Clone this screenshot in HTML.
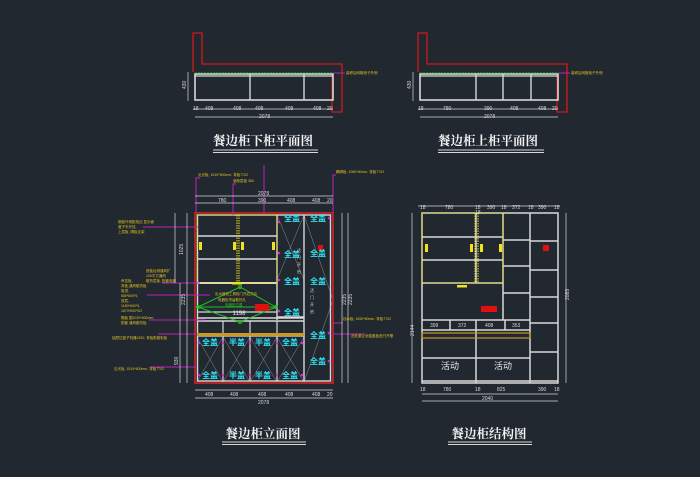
<!DOCTYPE html>
<html><head><meta charset="utf-8"><style>
html,body{margin:0;padding:0;background:#212830;}
svg{display:block}
text{font-family:"Liberation Sans","Noto Sans CJK SC",sans-serif;}
.t{font-family:"Liberation Serif","Noto Serif CJK SC",serif;}
</style></head><body>
<svg width="700" height="477" viewBox="0 0 700 477" xmlns="http://www.w3.org/2000/svg">
<rect width="700" height="477" fill="#212830"/>

<!-- ===== Top-left plan ===== -->
<g>
<polyline points="193,72 193,33 202,33 202,64 342,64 342,112 332,112 332,75" fill="none" stroke="#d01818" stroke-width="1.3"/>
<rect x="195" y="74" width="138" height="26" fill="none" stroke="#d8d8d8" stroke-width="1.6"/>
<line x1="195" y1="76" x2="333" y2="76" stroke="#d8d8d8" stroke-width="1.2"/>
<line x1="250" y1="74" x2="250" y2="100" stroke="#d8d8d8" stroke-width="1.4"/>
<line x1="304" y1="74" x2="304" y2="100" stroke="#d8d8d8" stroke-width="1.4"/>
<line x1="195" y1="73" x2="333" y2="73" stroke="#20c020" stroke-width="1" stroke-dasharray="2,1"/>
<line x1="333" y1="73" x2="345" y2="73" stroke="#c020c0" stroke-width="1"/>
<text x="346" y="74" font-size="3.5" fill="#e0c020">装修后网格柜子外侧</text>
<line x1="188" y1="72" x2="188" y2="101" stroke="#d8d8d8" stroke-width="0.7"/>
<text x="186" y="89" font-size="5" fill="#d8d8d8" transform="rotate(-90 186 89)">430</text>
<line x1="193" y1="109" x2="333" y2="109" stroke="#d8d8d8" stroke-width="0.7"/>
<text x="193" y="110" font-size="5" fill="#d8d8d8">18</text>
<text x="205" y="110" font-size="5" fill="#d8d8d8">408</text>
<text x="233" y="110" font-size="5" fill="#d8d8d8">408</text>
<text x="255" y="110" font-size="5" fill="#d8d8d8">408</text>
<text x="285" y="110" font-size="5" fill="#d8d8d8">408</text>
<text x="313" y="110" font-size="5" fill="#d8d8d8">408</text>
<text x="327" y="110" font-size="5" fill="#d8d8d8">20</text>
<line x1="195" y1="117" x2="333" y2="117" stroke="#d8d8d8" stroke-width="0.7"/>
<text x="259" y="118" font-size="5" fill="#d8d8d8">2078</text>
<text class="t" x="263" y="145" font-size="12.5" fill="#f2f2f2" text-anchor="middle" font-weight="bold">餐边柜下柜平面图</text>
<line x1="213" y1="150" x2="318" y2="150" stroke="#d8d8d8" stroke-width="1"/>
<line x1="213" y1="152.5" x2="318" y2="152.5" stroke="#d8d8d8" stroke-width="1"/>
</g>

<!-- ===== Top-right plan ===== -->
<g>
<polyline points="418,72 418,33 427,33 427,64 567,64 567,112 557,112 557,75" fill="none" stroke="#d01818" stroke-width="1.3"/>
<rect x="420" y="74" width="138" height="26" fill="none" stroke="#d8d8d8" stroke-width="1.6"/>
<line x1="420" y1="76" x2="558" y2="76" stroke="#d8d8d8" stroke-width="1.2"/>
<line x1="476" y1="74" x2="476" y2="100" stroke="#d8d8d8" stroke-width="1.4"/>
<line x1="503" y1="74" x2="503" y2="100" stroke="#d8d8d8" stroke-width="1.4"/>
<line x1="531" y1="74" x2="531" y2="100" stroke="#d8d8d8" stroke-width="1.4"/>
<line x1="420" y1="73" x2="558" y2="73" stroke="#20c020" stroke-width="1" stroke-dasharray="2,1"/>
<line x1="558" y1="73" x2="570" y2="73" stroke="#c020c0" stroke-width="1"/>
<text x="571" y="74" font-size="3.5" fill="#e0c020">装修后网格柜子外侧</text>
<line x1="413" y1="72" x2="413" y2="101" stroke="#d8d8d8" stroke-width="0.7"/>
<text x="411" y="89" font-size="5" fill="#d8d8d8" transform="rotate(-90 411 89)">430</text>
<line x1="418" y1="109" x2="558" y2="109" stroke="#d8d8d8" stroke-width="0.7"/>
<text x="418" y="110" font-size="5" fill="#d8d8d8">18</text>
<text x="443" y="110" font-size="5" fill="#d8d8d8">780</text>
<text x="484" y="110" font-size="5" fill="#d8d8d8">390</text>
<text x="510" y="110" font-size="5" fill="#d8d8d8">408</text>
<text x="538" y="110" font-size="5" fill="#d8d8d8">408</text>
<text x="552" y="110" font-size="5" fill="#d8d8d8">20</text>
<line x1="420" y1="117" x2="558" y2="117" stroke="#d8d8d8" stroke-width="0.7"/>
<text x="484" y="118" font-size="5" fill="#d8d8d8">2078</text>
<text class="t" x="488" y="145" font-size="12.5" fill="#f2f2f2" text-anchor="middle" font-weight="bold">餐边柜上柜平面图</text>
<line x1="438" y1="150" x2="544" y2="150" stroke="#d8d8d8" stroke-width="1"/>
<line x1="438" y1="152.5" x2="544" y2="152.5" stroke="#d8d8d8" stroke-width="1"/>
</g>

<!-- ===== Elevation ===== -->
<g stroke="#d8d8d8" fill="none">
<g stroke="#8a8f95" stroke-width="0.5">
<line x1="277" y1="215" x2="304" y2="280"/><line x1="304" y1="215" x2="277" y2="280"/>
<line x1="304" y1="215" x2="333" y2="300"/><line x1="333" y1="300" x2="304" y2="382"/>
<line x1="197" y1="337" x2="223" y2="382"/><line x1="223" y1="337" x2="197" y2="382"/>
<line x1="223" y1="337" x2="250" y2="382"/><line x1="250" y1="337" x2="223" y2="382"/>
<line x1="250" y1="337" x2="277" y2="382"/><line x1="277" y1="337" x2="250" y2="382"/>
<line x1="277" y1="337" x2="304" y2="382"/><line x1="304" y1="337" x2="277" y2="382"/>
</g>
<rect x="195" y="213" width="138" height="170" stroke="#e02020" stroke-width="1.5"/>
<rect x="197.5" y="215" width="133" height="166" stroke-width="1.4"/>
<line x1="277" y1="215" x2="277" y2="320" stroke-width="1.4"/>
<line x1="304" y1="215" x2="304" y2="381" stroke-width="1.4"/>
<line x1="197" y1="283" x2="277" y2="283" stroke-width="2"/>
<line x1="197" y1="318" x2="304" y2="318" stroke-width="1.4"/>
<line x1="197" y1="321" x2="304" y2="321" stroke-width="1.4"/>
<line x1="277" y1="317" x2="304" y2="317" stroke-width="1.4"/>
<line x1="197" y1="336" x2="304" y2="336" stroke-width="1.2"/>
<line x1="223" y1="321" x2="223" y2="381" stroke-width="1.2"/>
<line x1="250" y1="321" x2="250" y2="381" stroke-width="1.2"/>
<line x1="277" y1="321" x2="277" y2="381" stroke-width="1.2"/>
<line x1="197" y1="236" x2="277" y2="236" stroke-width="1.6"/>
<line x1="197" y1="259" x2="277" y2="259" stroke-width="1.6"/>
<line x1="197" y1="312" x2="277" y2="312" stroke-width="1.2"/>
</g>
<g stroke="#f0e020" stroke-width="1" fill="none" stroke-dasharray="1.5,1">
<rect x="197" y="215" width="80" height="68"/>
<line x1="237" y1="215" x2="237" y2="283"/><line x1="239" y1="215" x2="239" y2="283"/>
</g>
<g fill="#f0e020">
<rect x="199" y="242" width="3" height="8"/><rect x="233" y="242" width="3" height="8"/>
<rect x="241" y="242" width="3" height="8"/><rect x="272" y="242" width="3" height="8"/>
<rect x="232" y="282" width="10" height="2.5"/>
</g>
<rect x="197" y="333" width="107" height="3" fill="#c89828"/>
<g stroke="#20c020" stroke-width="1" fill="none">
<polygon points="198,307 240,287 276,307 240,322"/>
<line x1="198" y1="307" x2="276" y2="307"/>
<circle cx="198" cy="307" r="1.5"/><circle cx="276" cy="307" r="1.5"/><circle cx="240" cy="287" r="1.5"/><circle cx="240" cy="322" r="1.5"/>
</g>
<rect x="255" y="304" width="14" height="7" fill="#e01010"/>
<rect x="318" y="245" width="5" height="5" fill="#e01010"/>
<text x="239" y="315" font-size="6" fill="#f0f0f0" text-anchor="middle">1198</text>
<text x="215" y="295" font-size="3.5" fill="#e0c020">出水管及工具柜门开启方向</text>
<text x="218" y="301" font-size="3.5" fill="#e0c020">电器柜须留散热孔</text>
<text x="225" y="306" font-size="3.5" fill="#20c020">电器柜位置</text>
<g font-size="8" fill="#30e0f0" font-weight="bold" text-anchor="middle">
<text x="292" y="221">全盖</text><text x="292" y="257">全盖</text><text x="292" y="284">全盖</text><text x="292" y="315">全盖</text>
<text x="318" y="221">全盖</text><text x="318" y="256">全盖</text><text x="318" y="284">全盖</text><text x="318" y="338">全盖</text><text x="318" y="364">全盖</text>
<text x="210" y="345">全盖</text><text x="237" y="345">半盖</text><text x="263" y="345">半盖</text><text x="290" y="345">全盖</text>
<text x="210" y="378">全盖</text><text x="237" y="378">半盖</text><text x="263" y="378">半盖</text><text x="290" y="378">全盖</text>
</g>
<g font-size="4" fill="#d8d8d8">
<text x="297" y="252">活</text><text x="297" y="259">门</text><text x="297" y="266">开</text><text x="297" y="273">启</text>
<text x="310" y="292">活</text><text x="310" y="299">门</text><text x="310" y="306">开</text><text x="310" y="313">启</text>
</g>
<g fill="#e020e0">
<circle cx="279" cy="222" r="1.3"/><circle cx="279" cy="253" r="1.3"/><circle cx="279" cy="280" r="1.3"/><circle cx="279" cy="311" r="1.3"/>
<circle cx="329" cy="218" r="1.3"/><circle cx="329" cy="333" r="1.3"/><circle cx="329" cy="361" r="1.3"/>
<circle cx="199" cy="343" r="1.3"/><circle cx="223" cy="343" r="1.3"/><circle cx="250" cy="343" r="1.3"/><circle cx="277" cy="343" r="1.3"/><circle cx="302" cy="343" r="1.3"/>
<circle cx="199" cy="375" r="1.3"/><circle cx="223" cy="375" r="1.3"/><circle cx="250" cy="375" r="1.3"/><circle cx="277" cy="375" r="1.3"/><circle cx="302" cy="375" r="1.3"/>
</g>
<g stroke="#c020c0" stroke-width="1" fill="none">
<polyline points="196,213 196,178 200,178"/>
<polyline points="233,215 233,184 236,184"/>
<polyline points="264,213 264,165"/>
<polyline points="333,213 333,175 336,175"/>
<line x1="143" y1="227" x2="198" y2="227"/>
<line x1="162" y1="283" x2="200" y2="283"/>
<line x1="147" y1="295" x2="210" y2="295"/>
<line x1="149" y1="320" x2="205" y2="320"/>
<line x1="158" y1="334" x2="196" y2="334"/>
<line x1="150" y1="367" x2="196" y2="367"/>
<line x1="333" y1="323" x2="343" y2="323"/>
<line x1="333" y1="334" x2="365" y2="334"/>
</g>
<g font-size="3.5" fill="#e0c020">
<text x="198" y="176">见光板, 1510*600mm, 背板7702</text>
<text x="233" y="182">酒柜层板 360</text>
<text x="336" y="173">踢脚板, 1080*60mm, 背板7702</text>
<text x="118" y="223">搁板外侧距柜边 显示面</text><text x="118" y="228">盖子半开铰, </text><text x="118" y="233">上层板, 隔板支架</text>
<text x="146" y="272">底板后侧通风扩</text><text x="146" y="277">100平方通风</text><text x="146" y="282">散热层板, 配套电器</text>
<text x="121" y="282">声控板,</text><text x="121" y="287">背板,通风散热板</text><text x="121" y="292">吸顶,</text><text x="121" y="297">580*600*5,</text><text x="121" y="302">双层,</text><text x="121" y="307">1180*600*5,</text><text x="121" y="312">1870*600*5/2</text>
<text x="121" y="319">隔板 图1020*600mm,</text><text x="121" y="324">配套 通风散热板</text>
<text x="112" y="339">抽屉拉篮子机器1530, 背板配套柜板</text>
<text x="114" y="370">见光板, 1510*600mm, 背板7702</text>
<text x="343" y="320">挡水板, 1650*60mm, 背板7702</text>
<text x="351" y="337">此处避让地插盖板进行开槽</text>
</g>
<g stroke="#d8d8d8" stroke-width="0.7" fill="none">
<line x1="195" y1="196" x2="333" y2="196"/><line x1="195" y1="203" x2="333" y2="203"/>
<line x1="195" y1="390" x2="333" y2="390"/><line x1="195" y1="398" x2="333" y2="398"/>
<line x1="187" y1="213" x2="187" y2="383"/><line x1="180" y1="283" x2="180" y2="383"/><line x1="175" y1="213" x2="175" y2="283"/>
<line x1="342" y1="213" x2="342" y2="383"/><line x1="348" y1="213" x2="348" y2="383"/>
</g>
<g font-size="5" fill="#d8d8d8">
<text x="258" y="195">2078</text>
<text x="218" y="202">780</text><text x="258" y="202">390</text><text x="287" y="202">408</text><text x="312" y="202">408</text><text x="327" y="202">20</text>
<text x="205" y="396">408</text><text x="230" y="396">408</text><text x="258" y="396">408</text><text x="285" y="396">408</text><text x="312" y="396">408</text><text x="327" y="396">20</text>
<text x="258" y="404">2078</text>
<text x="183" y="255" transform="rotate(-90 183 255)">1025</text>
<text x="185" y="305" transform="rotate(-90 185 305)">2235</text>
<text x="178" y="365" transform="rotate(-90 178 365)">930</text>
<text x="346" y="305" transform="rotate(-90 346 305)">2235</text>
<text x="352" y="305" transform="rotate(-90 352 305)">2235</text>
</g>
<text class="t" x="263" y="438" font-size="12.5" fill="#f2f2f2" text-anchor="middle" font-weight="bold">餐边柜立面图</text>
<line x1="222" y1="442" x2="306" y2="442" stroke="#d8d8d8" stroke-width="1"/>
<line x1="222" y1="444.5" x2="306" y2="444.5" stroke="#d8d8d8" stroke-width="1"/>

<!-- ===== Structure ===== -->
<g stroke="#d8d8d8" stroke-width="1.5" fill="none">
<rect x="422" y="213" width="136" height="170"/>
<line x1="422" y1="381" x2="558" y2="381"/>
<line x1="503" y1="213" x2="503" y2="320"/>
<line x1="530" y1="213" x2="530" y2="383"/>
<line x1="476" y1="213" x2="476" y2="283"/>
<line x1="422" y1="237" x2="503" y2="237"/><line x1="422" y1="260" x2="503" y2="260"/>
<line x1="422" y1="283" x2="503" y2="283"/>
<line x1="503" y1="240" x2="530" y2="240"/><line x1="503" y1="266" x2="530" y2="266"/><line x1="503" y1="293" x2="530" y2="293"/>
<line x1="422" y1="320" x2="530" y2="320"/><line x1="422" y1="330" x2="530" y2="330"/>
<line x1="450" y1="320" x2="450" y2="330"/><line x1="476" y1="320" x2="476" y2="383"/><line x1="505" y1="320" x2="505" y2="330"/>
<line x1="422" y1="358" x2="530" y2="358"/>
<line x1="530" y1="241" x2="558" y2="241"/><line x1="530" y1="270" x2="558" y2="270"/><line x1="530" y1="297" x2="558" y2="297"/><line x1="530" y1="323" x2="558" y2="323"/><line x1="530" y1="352" x2="558" y2="352"/>
</g>
<g stroke="#f0e020" stroke-width="1" fill="none" stroke-dasharray="1.5,1">
<rect x="422" y="213" width="81" height="70"/>
<line x1="475" y1="213" x2="475" y2="283"/><line x1="478" y1="213" x2="478" y2="283"/>
</g>
<g fill="#f0e020">
<rect x="425" y="244" width="3" height="8"/><rect x="470" y="244" width="3" height="8"/>
<rect x="480" y="244" width="3" height="8"/><rect x="499" y="244" width="3" height="8"/>
<rect x="457" y="285" width="10" height="2.5"/>
</g>
<rect x="422" y="333" width="108" height="5" fill="none" stroke="#c89828" stroke-width="1.2"/>
<rect x="481" y="306" width="16" height="6" fill="#e01010"/>
<rect x="543" y="245" width="6" height="6" fill="#e01010"/>
<text x="450" y="369" font-size="9" fill="#e8e8e8" text-anchor="middle">活动</text>
<text x="503" y="369" font-size="9" fill="#e8e8e8" text-anchor="middle">活动</text>
<g font-size="5" fill="#d8d8d8">
<text x="430" y="327">399</text><text x="458" y="327">372</text><text x="485" y="327">408</text><text x="512" y="327">353</text>
<text x="420" y="209">18</text><text x="445" y="209">780</text><text x="475" y="209">18</text><text x="487" y="209">390</text><text x="501" y="209">18</text><text x="512" y="209">372</text><text x="528" y="209">18</text><text x="538" y="209">390</text><text x="554" y="209">18</text>
<text x="475" y="214">18</text>
<text x="420" y="391">18</text><text x="443" y="391">780</text><text x="475" y="391">18</text><text x="497" y="391">825</text><text x="538" y="391">390</text><text x="554" y="391">18</text>
<text x="482" y="400">2040</text>
<text x="414" y="336" transform="rotate(-90 414 336)">2144</text>
<text x="569" y="300" transform="rotate(-90 569 300)">2089</text>
</g>
<g stroke="#d8d8d8" stroke-width="0.7">
<line x1="418" y1="206" x2="560" y2="206"/><line x1="422" y1="394" x2="558" y2="394"/><line x1="422" y1="401" x2="558" y2="401"/>
<line x1="412" y1="213" x2="412" y2="383"/><line x1="566" y1="213" x2="566" y2="383"/>
</g>
<text class="t" x="489" y="438" font-size="12.5" fill="#f2f2f2" text-anchor="middle" font-weight="bold">餐边柜结构图</text>
<line x1="448" y1="442" x2="532" y2="442" stroke="#d8d8d8" stroke-width="1"/>
<line x1="448" y1="444.5" x2="532" y2="444.5" stroke="#d8d8d8" stroke-width="1"/>
</svg>
</body></html>
